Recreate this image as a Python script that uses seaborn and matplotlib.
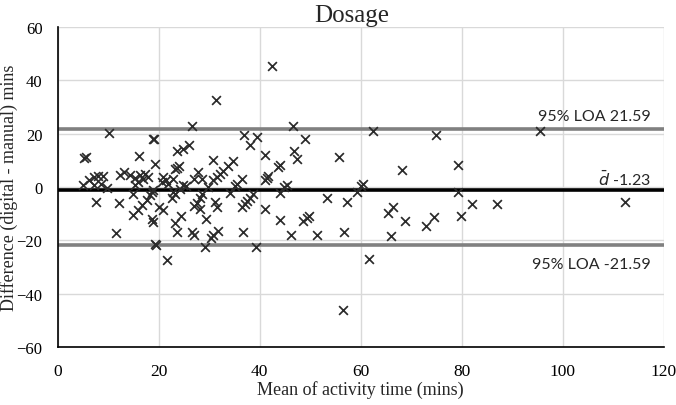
import pandas as pd
import matplotlib
matplotlib.use("Agg")
import matplotlib.pyplot as plt
import seaborn as sns

# mean of digital and manual activity time (mins)
mean_time = [
    5.3, 5.6, 10.2, 16.0, 18.9, 19.1, 19.3,
    5.1, 6.1, 7.1, 8.0, 9.0, 7.1, 8.5, 9.8,
    12.3, 13.1, 14.3, 15.3, 16.3, 17.3, 17.9,
    15.3, 15.9, 16.8, 20.9, 21.5, 20.6, 21.9,
    22.9, 23.6, 23.3, 24.0, 23.6, 24.8, 25.9,
    7.5, 12.2, 14.9, 14.9, 15.9, 16.6, 17.6, 18.3, 18.9, 18.6,
    20.0, 20.9, 18.6, 18.9, 23.2, 23.6, 24.5, 11.5, 19.2, 19.5, 21.6,
    22.9, 23.3, 22.7, 24.2, 24.8, 25.3,
    26.5, 31.3, 42.5,
    30.8, 34.8, 33.8, 32.8, 32.1, 31.5, 30.8,
    27.8, 26.9, 28.6, 29.8,
    36.8, 39.5, 38.0, 41.0,
    36.4, 35.4, 35.0, 41.0, 41.4, 41.7, 44.0, 43.7,
    45.3, 44.7, 44.0, 34.1,
    28.6, 28.2, 27.5, 26.9, 28.2, 29.3,
    31.1, 31.5, 38.7, 38.1, 37.5, 37.0, 36.4,
    41.0, 44.0, 30.8, 31.8, 30.3, 26.5, 26.9, 36.6, 29.2, 39.3,
    46.5, 49.0, 46.7, 47.3, 55.6, 62.5, 68.1,
    60.5, 60.0, 59.2, 53.3, 57.2,
    49.3, 48.6, 49.8, 46.2, 51.4, 56.6,
    66.3, 65.3, 68.8, 65.9, 61.7, 56.5,
    74.9, 79.2, 79.3, 82.0, 87.0, 74.4, 72.9, 79.8, 95.5, 112.3,
]

# difference digital - manual (mins)
difference = [
    10.9, 11.2, 20.3, 11.6, 17.8, 18.1, 8.6,
    0.6, 2.5, 3.8, 4.1, 4.1, 0.6, 1.0, -0.3,
    4.4, 5.6, 4.4, 3.4, 4.4, 5.0, 3.8,
    0.9, 1.9, 2.8, 3.8, 2.5, 2.0, 1.0,
    3.1, 7.1, 6.9, 8.0, 13.5, 14.2, 15.6,
    -5.6, -5.9, -2.5, -10.3, -8.7, -6.8, -5.0, -3.1, -1.2, -1.8,
    -7.6, -8.7, -12.0, -13.0, -13.5, -16.9, -10.7, -17.4, -21.2, -21.7, -27.3,
    -1.8, -2.6, -4.3, -0.6, 0.6, 0.3,
    23.0, 32.6, 45.2,
    10.0, 9.8, 7.8, 5.9, 4.7, 3.6, 2.5,
    5.6, 3.1, 3.1, 0.0,
    19.6, 18.7, 15.6, 11.8,
    3.1, 1.0, 0.5, 2.5, 3.4, 4.2, 8.1, 7.5,
    0.6, 0.0, -2.2, -2.3,
    -2.5, -4.3, -6.0, -7.2, -8.3, -11.8,
    -5.6, -7.5, -2.5, -4.3, -5.4, -6.5, -7.6,
    -8.1, -12.4, -18.0, -16.6, -19.0, -16.8, -17.8, -17.0, -22.4, -22.4,
    23.0, 18.0, 13.4, 10.5, 11.1, 20.8, 6.2,
    1.3, 0.5, -1.9, -4.0, -5.8,
    -11.5, -12.9, -10.9, -18.0, -18.0, -16.9,
    -7.4, -9.8, -12.8, -18.3, -27.0, -46.2,
    19.6, 8.1, -1.7, -6.2, -6.2, -11.4, -14.7, -10.8, 20.8, -5.8,
]

mean_diff = -1.23
loa_upper = 21.59
loa_lower = -21.59

df = pd.DataFrame({"mean": mean_time, "diff": difference})

sns.set_theme(style="white")
plt.rcParams["font.family"] = ["Liberation Serif", "DejaVu Serif"]

fig = plt.figure(figsize=(6.76, 4.06), dpi=100)
ax = fig.add_axes([0.0854, 0.142, 0.8966, 0.790])

ax.grid(True, color="#d9d9d9", linewidth=1.0)
ax.set_axisbelow(True)

ax.axhline(loa_upper, color="#808080", linewidth=2.6, zorder=2)
ax.axhline(loa_lower, color="#808080", linewidth=2.6, zorder=2)
ax.axhline(mean_diff, color="black", linewidth=2.6, zorder=2)

sns.scatterplot(data=df, x="mean", y="diff", marker="x", color="#2b2b2b",
                s=40, linewidth=1.25, ax=ax, zorder=3, legend=False)

ax.set_xlim(0, 120)
ax.set_ylim(-60, 60)
ax.set_xticks(range(0, 121, 20))
ax.set_yticks(range(-60, 61, 20))

for s in ["top", "right"]:
    ax.spines[s].set_visible(False)
for s in ["left", "bottom"]:
    ax.spines[s].set_color("black")
    ax.spines[s].set_linewidth(1.2)

ax.tick_params(axis="both", labelsize=12.5, colors="black", length=4, width=1,
               direction="out")
ax.tick_params(axis="x", pad=7)
ax.tick_params(axis="y", pad=7, labelsize=12)

ax.set_xlabel("Mean of activity time (mins)", fontsize=13, labelpad=1)
ax.set_ylabel("Difference (digital - manual) mins", fontsize=13)
ax.yaxis.set_label_coords(-0.080, 0.5)
ax.yaxis.label.set_va("center")
ax.set_title("Dosage", fontsize=18, pad=4, x=0.485)

sans = ["Lato", "DejaVu Sans"]
ax.text(117.5, loa_upper + 2.5, "95% LOA 21.59", ha="right", va="bottom",
        fontsize=11.5, family=sans)
ax.text(117.5, mean_diff + 0.8, r"$\bar{d}$ -1.23", ha="right", va="bottom",
        fontsize=11.5, family=sans)
ax.text(117.5, loa_lower - 4.5, "95% LOA -21.59", ha="right", va="top",
        fontsize=11.5, family=sans)

fig.savefig("out.png", dpi=100)
